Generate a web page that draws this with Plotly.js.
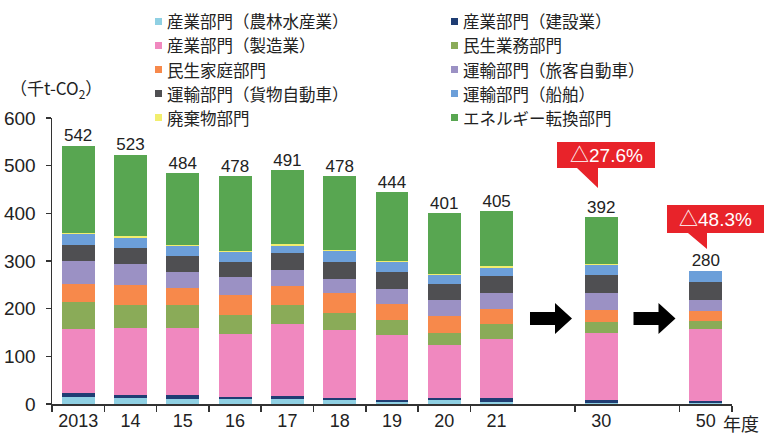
<!DOCTYPE html>
<html><head><meta charset="utf-8">
<script src="https://cdn.plot.ly/plotly-3.0.1.min.js"></script>
<style>html,body{margin:0;padding:0;background:#fff}</style>
</head><body><div id="chart" style="width:764px;height:436px"></div>
<script>
// ---- data ----
const categories = ['2013','14','15','16','17','18','19','20','21','→a','30','→b','50'];
const years = ['2013','14','15','16','17','18','19','20','21','30','50'];
const totals = [542,523,484,478,491,478,444,401,405,392,280];
const seriesNames = [
  '産業部門（農林水産業）','産業部門（建設業）',
  '産業部門（製造業）','民生業務部門',
  '民生家庭部門','運輸部門（旅客自動車）',
  '運輸部門（貨物自動車）','運輸部門（船舶）',
  '廃棄物部門','エネルギー転換部門'
];
const agriculture   = [14,12,11,10,10,9,4,9,5,3,3];
const construction  = [9,7,8,5,7,3,5,3,7,5,4];
const manufacturing = [134,140,140,132,151,144,135,111,124,142,150];
const commercial    = [56,48,48,40,40,35,32,27,32,23,18];
const household     = [38,43,37,42,40,41,33,35,31,25,21];
const passenger     = [48,44,32,37,34,31,33,33,34,35,22];
const freight       = [35,34,34,31,35,35,35,33,35,38,37];
const shipping      = [22,21,21,21,15,23,20,19,18,21,23];
const waste         = [3,4,3,3,3,3,3,3,3,2,1];
const energy        = [183,170,150,157,156,154,144,128,116,98,1];
const reductions = ['△27.6%','△48.3%'];
const unitLabel = '（千t-CO<sub>2</sub>）';
const yearSuffix = '年度';

// ---- styles ----
const colors = ['#8fd0e3','#1f3d73','#f088bf','#8aab58','#f7894b','#9b91c4','#4f4f52','#6c9fd9','#f2ee6e','#58a651'];
const seriesValues = [agriculture,construction,manufacturing,commercial,household,passenger,freight,shipping,waste,energy];
const FONT = 'Liberation Sans, Arial, Noto Sans CJK JP, sans-serif';
const JFONT = 'Noto Sans CJK JP, sans-serif';

const L = 52, R = 32, T = 118, B = 32, W = 764, H = 436;
const PW = W - L - R, PH = H - T - B;
const px = x => (x - L) / PW;
const py = y => (H - B - y) / PH;
const path = pts => 'M' + pts.map(p => px(p[0]).toFixed(5) + ',' + py(p[1]).toFixed(5)).join('L') + 'Z';

const traces = seriesValues.map((vals, i) => ({
  type: 'bar', x: years, y: vals, name: seriesNames[i],
  marker: {color: colors[i], line: {width: 0}},
  showlegend: false, hoverinfo: 'skip'
}));
traces.push({
  type: 'scatter', mode: 'text', x: years, y: totals, text: totals.map(String),
  textposition: 'top center', textfont: {size: 17, color: '#222', family: FONT},
  cliponaxis: false, showlegend: false, hoverinfo: 'skip'
});

const shapes = [];
const annotations = [];

// legend (two columns, five rows)
const legendFont = 16.5;
const rowGap = 24;
const firstRowY = 21.5;
const colMarkX = [155, 451];
const colTextX = [166, 462];
seriesNames.forEach((n, i) => {
  const r = Math.floor(i / 2), c = i % 2;
  const y = firstRowY + r * rowGap;
  shapes.push({type: 'rect', xref: 'paper', yref: 'paper',
    x0: px(colMarkX[c]), x1: px(colMarkX[c] + 7), y0: py(y + 3.5), y1: py(y - 3.5),
    fillcolor: colors[i], line: {width: 0}});
  annotations.push({xref: 'paper', yref: 'paper', x: px(colTextX[c]), y: py(y),
    xanchor: 'left', yanchor: 'middle', showarrow: false, text: n, borderpad: 0,
    font: {size: legendFont, color: '#222', family: JFONT}});
});

// unit label
annotations.push({xref: 'paper', yref: 'paper', x: px(8), y: py(88), xanchor: 'left', yanchor: 'middle',
  showarrow: false, text: unitLabel, font: {size: 17, color: '#222', family: JFONT}});
// year suffix
annotations.push({xref: 'paper', yref: 'paper', x: px(721), y: py(423), xanchor: 'left', yanchor: 'middle',
  showarrow: false, text: yearSuffix, font: {size: 18, color: '#222', family: JFONT}});

// arrows
[551, 654.5].forEach(cx => {
  shapes.push({type: 'path', xref: 'paper', yref: 'paper', fillcolor: '#000', line: {width: 0},
    path: path([[cx-21,312],[cx+4,312],[cx+4,303],[cx+21,318.5],[cx+4,334],[cx+4,325],[cx-21,325]])});
});

// callouts
const callouts = [
  {box: [557,142,655,168], tail: [[598,168],[598,188],[577,168]]},
  {box: [667,205,764,233], tail: [[707,233],[707,249],[688,233]]}
];
callouts.forEach((c, i) => {
  const [x0,y0,x1,y1] = c.box;
  shapes.push({type: 'path', xref: 'paper', yref: 'paper', fillcolor: '#e8232a', line: {width: 0},
    path: path([[x0,y0],[x1,y0],[x1,y1]].concat(c.tail).concat([[x0,y1]]))});
  annotations.push({xref: 'paper', yref: 'paper', x: px((x0+x1)/2), y: py((y0+y1)/2),
    xanchor: 'center', yanchor: 'middle', showarrow: false, text: reductions[i],
    font: {size: 19, color: '#fff', family: FONT}});
});

const layout = {
  width: W, height: H,
  margin: {l: L, r: R, t: T, b: B, pad: 0},
  paper_bgcolor: '#fff', plot_bgcolor: '#fff',
  barmode: 'stack', bargap: 0.37,
  showlegend: false,
  font: {family: FONT, color: '#222'},
  xaxis: {
    type: 'category', categoryorder: 'array', categoryarray: categories,
    range: [-0.5, categories.length - 0.5],
    tickmode: 'array', tickvals: years, ticktext: years,
    showline: true, linecolor: '#333', linewidth: 1.5,
    ticks: 'outside', tickson: 'boundaries', ticklen: 6, tickcolor: '#333', tickwidth: 1.5,
    showgrid: false, zeroline: false,
    tickfont: {size: 18, color: '#222', family: FONT}
  },
  yaxis: {
    range: [0, 600], dtick: 100, tick0: 0,
    showline: true, linecolor: '#333', linewidth: 1.5,
    ticks: 'outside', ticklen: 5, tickcolor: '#333', tickwidth: 1.5,
    ticklabelstandoff: 6,
    showgrid: false, zeroline: false,
    tickfont: {size: 19, color: '#222', family: FONT}
  },
  shapes: shapes,
  annotations: annotations
};

Plotly.newPlot('chart', traces, layout, {staticPlot: true, displayModeBar: false});
</script>
</body></html>
